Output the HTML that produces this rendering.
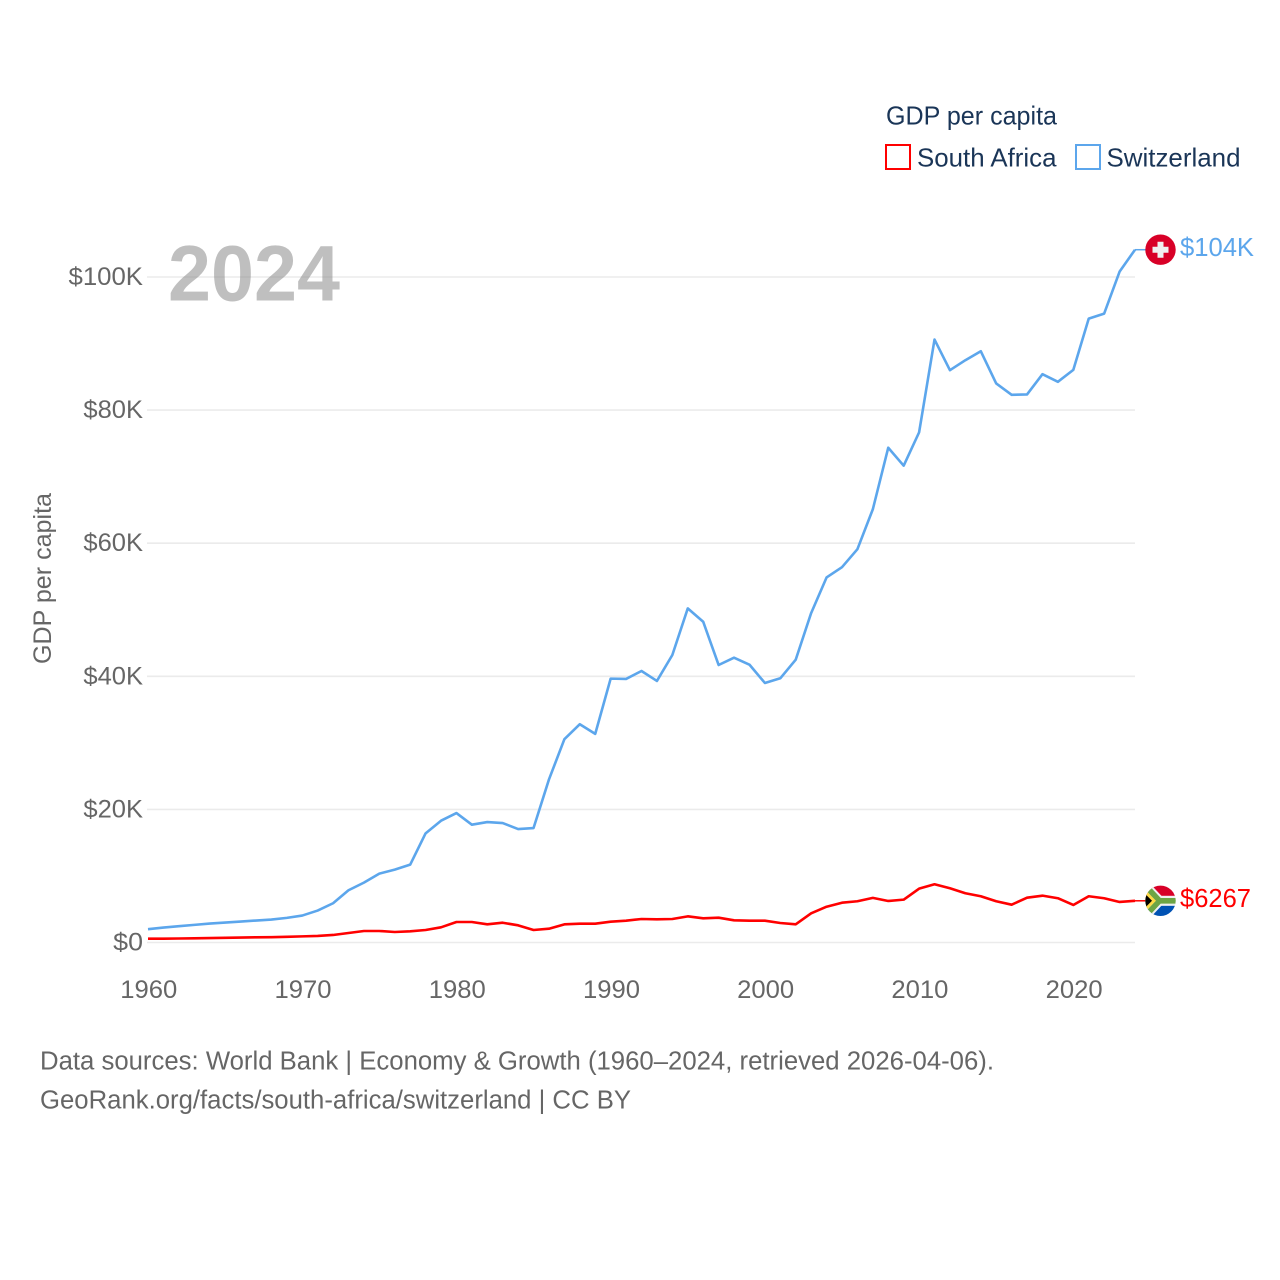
<!DOCTYPE html>
<html lang="en">
<head>
<meta charset="utf-8">
<title>GDP per capita: South Africa and Switzerland</title>
<style>
html,body{margin:0;padding:0;background:#fff;}
svg{display:block;}
text{font-family:"Liberation Sans",sans-serif;}
</style>
</head>
<body>
<svg id="chart" xmlns="http://www.w3.org/2000/svg" width="1280" height="1280" viewBox="0 0 1280 1280">
  <defs>
    <clipPath id="flag-clip"><circle cx="0" cy="0" r="15.2"/></clipPath>
  </defs>
  <g id="grid"></g>
  <text x="168" y="300.5" font-size="79" font-weight="700" fill="rgb(128,128,128)" fill-opacity="0.5" textLength="172" lengthAdjust="spacingAndGlyphs">2024</text>
  <g id="y-ticks"></g>
  <g id="x-ticks"></g>
  <text transform="translate(51,664) rotate(-90)" font-size="25" fill="#666666" textLength="171" lengthAdjust="spacingAndGlyphs">GDP per capita</text>
  <g id="series"></g>

  <g>
    <text x="886" y="124.5" font-size="26" fill="#1a3557" textLength="171" lengthAdjust="spacingAndGlyphs">GDP per capita</text>
    <g>
      <rect x="886" y="145" width="24" height="24" fill="#fff" stroke="#ff0000" stroke-width="2"/>
      <text x="917" y="166.5" font-size="26" fill="#1a3557" textLength="139.5" lengthAdjust="spacingAndGlyphs">South Africa</text>
    </g>
    <g>
      <rect x="1076" y="145" width="24" height="24" fill="#fff" stroke="#5ca6ec" stroke-width="2"/>
      <text x="1106.5" y="166.5" font-size="26" fill="#1a3557" textLength="134" lengthAdjust="spacingAndGlyphs">Switzerland</text>
    </g>
  </g>

  <g id="flag-switzerland">
    <g clip-path="url(#flag-clip)">
      <rect x="-16" y="-16" width="32" height="32" fill="#d80027"/>
      <path d="M-3 -8H3V-3H8V3H3V8H-3V3H-8V-3H-3Z" fill="#f0f0f0"/>
    </g>
  </g>
  <g id="flag-south-africa">
    <g clip-path="url(#flag-clip)">
      <rect x="-16" y="-16" width="32" height="32" fill="#f0f0f0"/>
      <rect x="-16" y="-16" width="32" height="11" fill="#d80027"/>
      <rect x="-16" y="5" width="32" height="11" fill="#0052b4"/>
      <path d="M-15 -15L-1 0L-15 15M-1 0H16" fill="none" stroke="#f0f0f0" stroke-width="9.6"/>
      <path d="M-15 -15L-1 0L-15 15M-1 0H16" fill="none" stroke="#6da544" stroke-width="5.6"/>
      <path d="M-16 -11.5L-4.5 0L-16 11.5Z" fill="#ffda44"/>
      <path d="M-16 -7.5L-8.5 0L-16 7.5Z" fill="#000"/>
    </g>
  </g>

  <g>
    <text x="40" y="1069.5" font-size="25.5" fill="#666666" textLength="954" lengthAdjust="spacingAndGlyphs">Data sources: World Bank | Economy &amp; Growth (1960–2024, retrieved 2026-04-06).</text>
    <text x="40" y="1108.5" font-size="25.5" fill="#666666" textLength="591" lengthAdjust="spacingAndGlyphs">GeoRank.org/facts/south-africa/switzerland | CC BY</text>
  </g>
</svg>

<script>
const years = [1960,1961,1962,1963,1964,1965,1966,1967,1968,1969,1970,1971,1972,1973,1974,1975,1976,1977,1978,1979,1980,1981,1982,1983,1984,1985,1986,1987,1988,1989,1990,1991,1992,1993,1994,1995,1996,1997,1998,1999,2000,2001,2002,2003,2004,2005,2006,2007,2008,2009,2010,2011,2012,2013,2014,2015,2016,2017,2018,2019,2020,2021,2022,2023,2024];
// GDP per capita, thousands of USD
const switzerlandValues = [2.0,2.25,2.45,2.65,2.85,3.0,3.15,3.3,3.45,3.7,4.05,4.8,5.9,7.85,9.0,10.35,10.95,11.7,16.4,18.3,19.45,17.7,18.1,17.95,17.05,17.2,24.5,30.55,32.8,31.35,39.65,39.6,40.8,39.3,43.2,50.2,48.2,41.7,42.8,41.75,39.0,39.7,42.5,49.5,54.85,56.4,59.1,65.1,74.35,71.65,76.65,90.6,86.0,87.5,88.85,84.0,82.3,82.35,85.4,84.25,86.05,93.75,94.5,100.8,104.1];
const southAfricaValues = [0.57,0.58,0.6,0.63,0.67,0.7,0.74,0.78,0.8,0.86,0.92,0.98,1.13,1.43,1.73,1.73,1.58,1.68,1.88,2.28,3.08,3.08,2.73,2.97,2.58,1.88,2.07,2.73,2.83,2.83,3.13,3.28,3.53,3.48,3.53,3.93,3.63,3.73,3.33,3.28,3.28,2.93,2.73,4.38,5.38,5.98,6.2,6.7,6.24,6.44,8.09,8.75,8.15,7.4,6.95,6.2,5.68,6.74,7.04,6.65,5.64,6.95,6.65,6.09,6.267];
const yTickValues = [0,20,40,60,80,100];
const yTickLabels = ["$0","$20K","$40K","$60K","$80K","$100K"];
const xTickYears = [1960,1970,1980,1990,2000,2010,2020];
const xTickLabels = ["1960","1970","1980","1990","2000","2010","2020"];

const SVG_NS = "http://www.w3.org/2000/svg";
const PLOT_LEFT = 148, PLOT_RIGHT = 1135, Y_ZERO = 942.5, Y_TOP = 277;
const xScale = function (year) {
  return PLOT_LEFT + (year - years[0]) / (years[years.length - 1] - years[0]) * (PLOT_RIGHT - PLOT_LEFT);
};
const yScale = function (value) {
  return Y_ZERO - value / 100 * (Y_ZERO - Y_TOP);
};
const formatValue = function (value) {
  return value >= 10 ? "$" + Math.round(value) + "K" : "$" + Math.round(value * 1000);
};
const make = function (tag, parentId) {
  const el = document.createElementNS(SVG_NS, tag);
  document.getElementById(parentId).appendChild(el);
  return el;
};

yTickValues.forEach(function (value, i) {
  const line = make("line", "grid");
  
  
  line.setAttribute("x1", PLOT_LEFT - 1);
  line.setAttribute("x2", PLOT_RIGHT);
  line.setAttribute("y1", yScale(value));
  line.setAttribute("y2", yScale(value));
  line.setAttribute("stroke", "#ebebeb");
  line.setAttribute("stroke-width", "1.6");

  const label = make("text", "y-ticks");
  
  
  label.setAttribute("x", "143");
  label.setAttribute("y", yScale(value) + 8);
  label.setAttribute("text-anchor", "end");
  label.setAttribute("font-size", "25");
  label.setAttribute("fill", "#666666");
  label.setAttribute("textLength", yTickLabels[i].length * 14.9);
  label.setAttribute("lengthAdjust", "spacingAndGlyphs");
  label.textContent = yTickLabels[i];
});

xTickYears.forEach(function (year, i) {
  const label = make("text", "x-ticks");
  
  
  label.setAttribute("x", xScale(year) + 0.8);
  label.setAttribute("y", "998");
  label.setAttribute("text-anchor", "middle");
  label.setAttribute("font-size", "25");
  label.setAttribute("fill", "#666666");
  label.setAttribute("textLength", "57");
  label.setAttribute("lengthAdjust", "spacingAndGlyphs");
  label.textContent = xTickLabels[i];
});

const drawSeries = function (values, color) {
  const points = values.map(function (value, i) {
    return xScale(years[i]).toFixed(2) + "," + yScale(value).toFixed(2);
  }).join(" ");
  const line = make("polyline", "series");
  line.setAttribute("points", points);
  line.setAttribute("fill", "none");
  line.setAttribute("stroke", color);
  line.setAttribute("stroke-width", "2.6");
  line.setAttribute("stroke-linejoin", "round");
  return line;
};

const drawEnd = function (values, color, flagId, labelWidth) {
  const lastY = yScale(values[values.length - 1]);
  document.getElementById(flagId).setAttribute("transform", "translate(1160.5," + lastY.toFixed(2) + ")");
  const leader = make("line", "series");
  
  
  leader.setAttribute("x1", PLOT_RIGHT);
  leader.setAttribute("x2", "1146");
  leader.setAttribute("y1", lastY);
  leader.setAttribute("y2", lastY);
  leader.setAttribute("stroke", color);
  leader.setAttribute("stroke-width", "1.5");
  const label = make("text", "series");
  
  
  label.setAttribute("x", "1180");
  label.setAttribute("y", lastY + 6.4);
  label.setAttribute("font-size", "26");
  label.setAttribute("fill", color);
  label.setAttribute("textLength", labelWidth);
  label.setAttribute("lengthAdjust", "spacingAndGlyphs");
  label.textContent = formatValue(values[values.length - 1]);
};

const switzerlandLine = drawSeries(switzerlandValues, "#5ca6ec");


const southAfricaLine = drawSeries(southAfricaValues, "#ff0000");


drawEnd(switzerlandValues, "#5ca6ec", "flag-switzerland", 74);
drawEnd(southAfricaValues, "#ff0000", "flag-south-africa", 71);
</script>
</body>
</html>
